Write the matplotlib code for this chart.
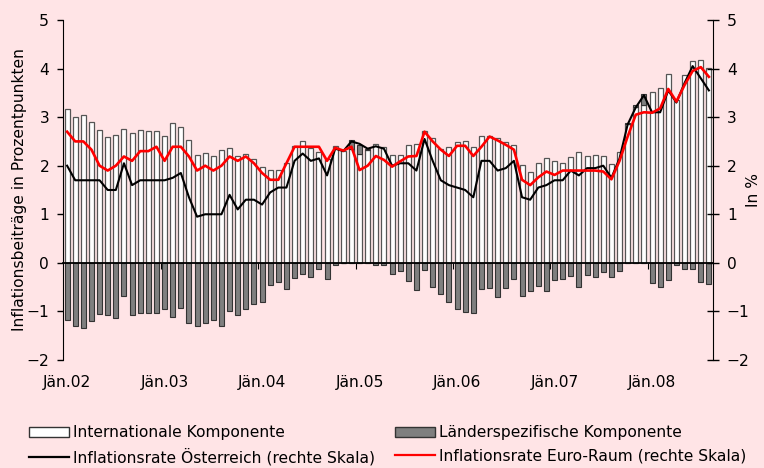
import numpy as np
import matplotlib
matplotlib.use("Agg")
import matplotlib.pyplot as plt
from matplotlib.patches import Patch
from matplotlib.lines import Line2D

# monthly data Jan 2002 - Aug 2008
intl = [3.16, 3.00, 3.05, 2.89, 2.74, 2.59, 2.63, 2.75, 2.67, 2.73, 2.71, 2.71,
        2.62, 2.87, 2.79, 2.53, 2.23, 2.26, 2.19, 2.33, 2.37, 2.19, 2.24, 2.13,
        1.98, 1.92, 1.92, 2.06, 2.40, 2.50, 2.37, 2.28, 2.14, 2.40, 2.30, 2.35,
        2.25, 2.33, 2.44, 2.38, 2.22, 2.21, 2.42, 2.44, 2.71, 2.58, 2.35, 2.38,
        2.48, 2.50, 2.38, 2.61, 2.61, 2.57, 2.48, 2.43, 2.02, 1.86, 2.05, 2.15,
        2.09, 2.05, 2.18, 2.28, 2.19, 2.21, 2.19, 2.03, 2.29, 2.86, 3.20, 3.25,
        3.51, 3.59, 3.88, 3.35, 3.87, 4.16, 4.17, 4.01]
country = [-1.18, -1.30, -1.35, -1.20, -1.05, -1.08, -1.13, -0.69, -1.07, -1.04, -1.03, -1.04,
           -0.95, -1.11, -0.94, -1.23, -1.30, -1.23, -1.17, -1.30, -0.99, -1.07, -0.95, -0.85,
           -0.80, -0.46, -0.39, -0.53, -0.32, -0.23, -0.29, -0.12, -0.34, -0.05, 0.00, 0.17,
           0.18, 0.02, -0.05, -0.05, -0.24, -0.17, -0.37, -0.56, -0.14, -0.49, -0.64, -0.80,
           -0.96, -1.01, -1.04, -0.54, -0.52, -0.71, -0.52, -0.34, -0.69, -0.59, -0.47, -0.57,
           -0.35, -0.33, -0.27, -0.50, -0.25, -0.30, -0.18, -0.29, -0.17, 0.02, 0.05, 0.23,
           -0.42, -0.50, -0.35, -0.05, -0.12, -0.12, -0.39, -0.44]
austria = [2.0, 1.7, 1.7, 1.7, 1.7, 1.5, 1.5, 2.05, 1.6, 1.7, 1.7, 1.7,
           1.7, 1.75, 1.85, 1.35, 0.95, 1.0, 1.0, 1.0, 1.4, 1.1, 1.3, 1.3,
           1.2, 1.45, 1.55, 1.55, 2.1, 2.25, 2.1, 2.15, 1.8, 2.35, 2.3, 2.5,
           2.45, 2.35, 2.4, 2.35, 2.0, 2.05, 2.05, 1.9, 2.55, 2.1, 1.7, 1.6,
           1.55, 1.5, 1.35, 2.1, 2.1, 1.9, 1.95, 2.1, 1.35, 1.3, 1.55, 1.6,
           1.7, 1.7, 1.9, 1.8, 1.95, 1.95, 2.0, 1.75, 2.15, 2.85, 3.2, 3.45,
           3.1, 3.1, 3.55, 3.3, 3.7, 4.05, 3.8, 3.55]
euro = [2.7, 2.5, 2.5, 2.33, 2.0, 1.9, 2.0, 2.19, 2.1, 2.3, 2.3, 2.39,
        2.1, 2.39, 2.39, 2.19, 1.9, 2.0, 1.9, 2.0, 2.19, 2.1, 2.19, 2.05,
        1.85, 1.71, 1.71, 2.05, 2.39, 2.39, 2.39, 2.39, 2.1, 2.37, 2.31, 2.39,
        1.91, 2.0, 2.2, 2.12, 1.98, 2.09, 2.19, 2.2, 2.7, 2.5, 2.33, 2.2,
        2.41, 2.41, 2.2, 2.39, 2.6, 2.52, 2.43, 2.33, 1.71, 1.6, 1.76, 1.88,
        1.81, 1.9, 1.9, 1.9, 1.9, 1.9, 1.88, 1.72, 2.1, 2.6, 3.05, 3.1,
        3.09, 3.18, 3.58, 3.32, 3.66, 3.95, 4.03, 3.83]
year_labels = ["Jän.02", "Jän.03", "Jän.04", "Jän.05", "Jän.06", "Jän.07", "Jän.08"]

intl = np.array(intl)
country = np.array(country)
x = np.arange(len(intl))
# positive country components are stacked on top of the international part
bottom_c = np.where(country > 0, intl, 0)

bg = "#FFE4E6"
fs = 11.2
plt.rcParams["font.family"] = "DejaVu Sans"

fig = plt.figure(figsize=(7.64, 4.68), dpi=100, facecolor=bg)
ax = fig.add_axes([0.0825, 0.2308, 0.8507, 0.7265])
ax.set_facecolor(bg)

w = 0.62
ax.bar(x, intl, width=w, color="white", edgecolor="#555555", linewidth=0.9)
ax.bar(x, country, width=w, bottom=bottom_c, color="#7f7f7f", edgecolor="#333333", linewidth=0.8)

ax.set_xlim(-0.5, len(x) - 0.5)
ax.set_ylim(-2, 5)
ax.set_yticks(range(-2, 6))
ax.tick_params(axis="y", direction="out", length=4, width=1, labelsize=fs, pad=6)
ax.set_ylabel("Inflationsbeiträge in Prozentpunkten", fontsize=fs)
ax.yaxis.set_label_coords(-0.056, 0.5)

ax.spines["top"].set_visible(False)
ax.spines["right"].set_visible(False)
ax.spines["bottom"].set_position(("data", 0))
ax.spines["bottom"].set_linewidth(1.3)
ax.set_xticks(np.arange(11.5, len(x), 12), minor=True)
ax.set_xticks([])
ax.tick_params(axis="x", which="minor", direction="out", length=4, width=0.8)

sec = ax.secondary_xaxis(0.0)
sec.set_xticks(np.arange(0, len(x), 12))
sec.set_xticklabels(year_labels)
sec.tick_params(length=0, labelsize=fs, pad=11)
sec.spines["bottom"].set_visible(False)

ax2 = ax.twinx()
ax2.set_ylim(-2, 5)
ax2.set_yticks(range(-2, 6))
ax2.plot(x, austria, color="black", linewidth=1.5)
ax2.plot(x, euro, color="#FF0000", linewidth=1.9)
ax2.spines["top"].set_visible(False)
ax2.spines["left"].set_visible(False)
ax2.spines["bottom"].set_visible(False)
ax2.tick_params(axis="y", direction="inout", length=8, width=1, labelsize=fs, pad=6)
ax2.set_ylabel("In %", fontsize=fs)
ax2.yaxis.set_label_coords(1.051, 0.5)

handles = [Patch(facecolor="white", edgecolor="#333333"),
           Line2D([], [], color="black", linewidth=1.6),
           Patch(facecolor="#7f7f7f", edgecolor="#333333"),
           Line2D([], [], color="#FF0000", linewidth=1.6)]
labels = ["Internationale Komponente", "Inflationsrate Österreich (rechte Skala)",
          "Länderspezifische Komponente", "Inflationsrate Euro-Raum (rechte Skala)"]
fig.legend(handles, labels, ncol=2, loc="lower left", bbox_to_anchor=(0.02, -0.025),
           frameon=False, fontsize=fs, handlelength=2.55, handletextpad=0.25,
           columnspacing=1.32, labelspacing=0.5)

fig.savefig("out.png", dpi=100, facecolor=bg)
